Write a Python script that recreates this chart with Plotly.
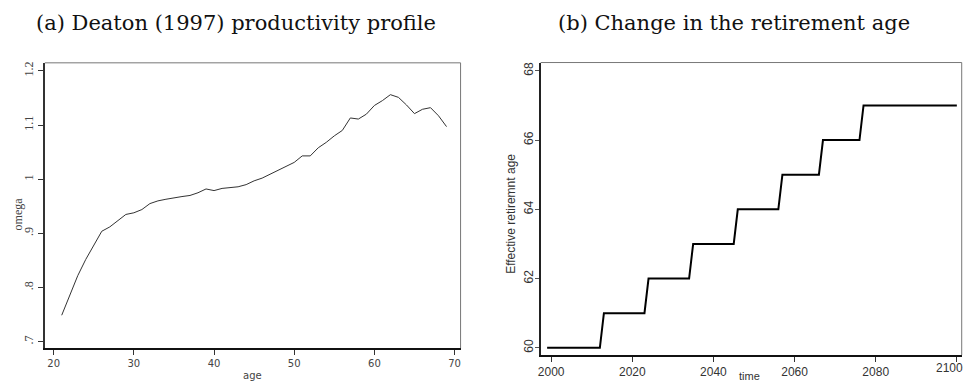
import plotly.graph_objects as go

# Panel (a): Deaton (1997) productivity profile
ages = list(range(21, 70))
omega = [0.749, 0.785, 0.822, 0.852, 0.879, 0.904, 0.912, 0.923, 0.935, 0.938,
         0.944, 0.955, 0.960, 0.963, 0.966, 0.968, 0.970, 0.975, 0.982, 0.979,
         0.983, 0.984, 0.986, 0.990, 0.997, 1.002, 1.009, 1.016, 1.023, 1.031,
         1.043, 1.043, 1.058, 1.068, 1.080, 1.090, 1.113, 1.111, 1.120, 1.136,
         1.145, 1.156, 1.151, 1.137, 1.121, 1.129, 1.132, 1.117, 1.097]

# Panel (b): change in the retirement age (corner points of the step path)
years = [1999, 2012, 2013, 2023, 2024, 2034, 2035, 2045, 2046, 2056,
         2057, 2066, 2067, 2076, 2077, 2100]
ret_age = [60, 60, 61, 61, 62, 62, 63, 63, 64, 64, 65, 65, 66, 66, 67, 67]

omega_ticks = [0.7, 0.8, 0.9, 1.0, 1.1, 1.2]
omega_ticktext = [".7", ".8", ".9", "1", "1.1", "1.2"]
age_ticks = [20, 30, 40, 50, 60, 70]
year_ticks = [2000, 2020, 2040, 2060, 2080, 2100]
ret_ticks = [60, 62, 64, 66, 68]

W, H = 965, 383
def px(x):
    return x / W
def py(y):
    return 1 - y / H

fig = go.Figure()
fig.add_trace(go.Scatter(x=ages, y=omega, mode="lines",
                         line=dict(color="#333333", width=1),
                         xaxis="x", yaxis="y", showlegend=False))
fig.add_trace(go.Scatter(x=years, y=ret_age, mode="lines",
                         line=dict(color="#000000", width=2),
                         xaxis="x2", yaxis="y2", showlegend=False))

tickfont_a = dict(family="DejaVu Sans", size=10, color="#444444")
tickfont_ay = dict(family="Liberation Serif", size=12, color="#444444")
tickfont_b = dict(family="Liberation Sans", size=12, color="#333333")

fig.update_layout(
    width=W, height=H,
    margin=dict(l=0, r=0, t=0, b=0),
    paper_bgcolor="white", plot_bgcolor="white",
    xaxis=dict(domain=[px(42), px(459)], range=[18.9, 70.75],
               tickvals=age_ticks, ticks="outside", ticklen=5, tickcolor="#333",
               tickfont=tickfont_a, showgrid=False, zeroline=False,
               showline=True, linecolor="#111", linewidth=2, anchor="y"),
    yaxis=dict(domain=[py(348), py(62)], range=[0.6884, 1.2147],
               tickvals=omega_ticks, ticktext=omega_ticktext, tickangle=-90,
               ticks="outside", ticklen=5, tickcolor="#333",
               tickfont=tickfont_ay, showgrid=False, zeroline=False,
               showline=True, linecolor="#333", linewidth=1.5, anchor="x"),
    xaxis2=dict(domain=[px(539.3), px(961.7)], range=[1997.4, 2101.2],
                tickvals=year_ticks, ticks="outside", ticklen=5, tickcolor="#333",
                tickfont=tickfont_b, showgrid=False, zeroline=False,
                showline=True, linecolor="#111", linewidth=2, anchor="y2"),
    yaxis2=dict(domain=[py(355), py(61.7)], range=[59.79, 68.24],
                tickvals=ret_ticks, tickangle=-90,
                ticks="outside", ticklen=4, tickcolor="#555",
                tickfont=tickfont_b, showgrid=False, zeroline=False,
                showline=True, linecolor="#222", linewidth=1.5, anchor="x2",
                ticklabelstandoff=-3),
)

# top/right frame lines (gray)
for (x0, x1, y0, y1) in [(42, 459, 62, 348), (539.3, 961.7, 61.7, 355)]:
    fig.add_shape(type="line", xref="paper", yref="paper",
                  x0=px(x0), x1=px(x1), y0=py(y0), y1=py(y0),
                  line=dict(color="#777777", width=1))
    fig.add_shape(type="line", xref="paper", yref="paper",
                  x0=px(x1), x1=px(x1), y0=py(y1), y1=py(y0),
                  line=dict(color="#777777", width=1))

title_font = dict(family="DejaVu Serif", size=21, color="#111111")
annots = [
    dict(text="(a) Deaton (1997) productivity profile", x=px(233.5), y=py(22),
         font=title_font),
    dict(text="(b) Change in the retirement age", x=px(733), y=py(22),
         font=title_font),
    dict(text="age", x=px(250), y=py(375),
         font=dict(family="DejaVu Sans", size=10, color="#444444")),
    dict(text="omega", x=px(15), y=py(213), textangle=-90,
         font=dict(family="Liberation Serif", size=12, color="#444444")),
    dict(text="Effective retiremnt age", x=px(510), y=py(213), textangle=-90,
         font=dict(family="Liberation Sans", size=12, color="#333333")),
    dict(text="time", x=px(749), y=py(376),
         font=dict(family="Liberation Sans", size=11, color="#333333")),
]
for a in annots:
    fig.add_annotation(xref="paper", yref="paper", showarrow=False,
                       xanchor="center", yanchor="middle", **a)

# last year label, kept inside the page edge (it would overflow when centred)
fig.add_annotation(xref="paper", yref="paper", showarrow=False,
                   text=str(year_ticks[-1]), x=1.0, y=py(368),
                   xanchor="right", yanchor="middle", font=tickfont_b)

fig.write_html("out.html")
